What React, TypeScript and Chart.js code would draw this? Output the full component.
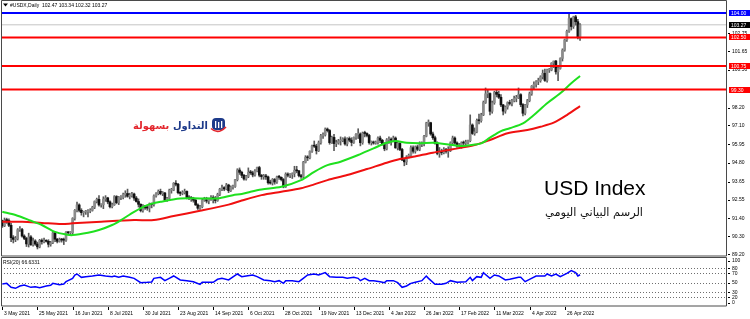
import React, { useEffect, useRef } from "react";
import { Chart, registerables } from "chart.js";

Chart.register(...registerables);

// ---------------- DATA (USDX daily, 3 May 2021 .. 5 May 2022, one bar per weekday) ----------------
const opens = [
  91.28, 90.95, 91.28, 91.27, 90.98, 90.22, 90.12, 90.15, 90.71, 90.72,
  90.32, 90.18, 89.84, 90.27, 89.79, 90.02, 89.83, 89.66, 90.06, 89.98,
  90.03, 90.0, 89.82, 89.91, 90.52, 90.13, 90.0, 90.1, 90.08, 90.07,
  90.56, 90.52, 90.53, 91.4, 91.9, 92.23, 91.9, 91.76, 91.8, 91.82,
  91.85, 91.9, 92.09, 92.44, 92.57, 92.23, 92.24, 92.59, 92.66, 92.42,
  92.12, 92.24, 92.74, 92.37, 92.69, 92.69, 92.87, 92.93, 92.76, 92.8,
  92.9, 92.65, 92.44, 92.27, 91.88, 92.17, 92.05, 92.04, 92.29, 92.25,
  92.78, 92.92, 93.06, 92.92, 92.96, 92.52, 92.63, 93.13, 93.14, 93.56,
  93.5, 92.98, 92.94, 92.99, 93.06, 92.68, 92.65, 92.63, 92.52, 92.23,
  92.03, 92.12, 92.52, 92.54, 92.47, 92.58, 92.66, 92.63, 92.5, 92.87,
  93.2, 93.29, 93.21, 93.45, 93.1, 93.33, 93.36, 93.78, 94.37, 94.23,
  94.04, 93.82, 93.98, 94.22, 94.2, 94.07, 94.31, 94.52, 94.05, 93.96,
  93.97, 93.95, 93.59, 93.57, 93.79, 93.64, 93.95, 93.92, 93.79, 93.34,
  94.12, 94.05, 94.09, 94.15, 94.35, 94.32, 94.03, 93.96, 94.84, 95.14,
  95.12, 95.52, 95.84, 95.83, 95.55, 96.04, 96.48, 96.52, 96.88, 96.79,
  96.05, 96.37, 95.99, 96.03, 96.15, 96.16, 96.28, 95.97, 96.3, 96.2,
  96.06, 96.37, 96.55, 96.58, 96.05, 96.63, 96.61, 96.49, 96.05, 96.09,
  96.02, 96.07, 96.33, 96.19, 95.97, 95.67, 96.22, 96.26, 96.2, 96.33,
  95.73, 96.0, 95.63, 94.99, 94.87, 95.17, 95.27, 95.74, 95.52, 95.79,
  95.64, 95.93, 95.97, 96.44, 97.25, 97.27, 96.58, 96.35, 96.01, 95.39,
  95.48, 95.43, 95.63, 95.51, 95.56, 96.04, 96.33, 96.03, 95.85, 95.86,
  96.04, 96.02, 96.02, 96.17, 97.13, 96.61, 96.71, 97.41, 97.39, 97.75,
  98.51, 99.04, 99.06, 97.97, 98.49, 99.13, 99.01, 98.83, 98.36, 97.98,
  98.23, 98.5, 98.45, 98.62, 98.76, 98.8, 98.99, 98.38, 97.85, 98.36,
  98.62, 99.04, 99.51, 99.62, 99.79, 99.85, 100.08, 100.3, 99.86, 100.5,
  100.5, 100.92, 101.05, 100.39, 100.6, 101.21, 101.72, 102.35, 102.87, 103.65,
  103.17, 103.76, 103.46, 102.47,
];
const highs = [
  91.3, 91.43, 91.42, 91.38, 91.1, 90.35, 90.3, 90.78, 90.9, 90.8,
  90.4, 90.25, 90.5, 90.35, 90.2, 90.1, 89.95, 90.12, 90.15, 90.2,
  90.1, 90.1, 90.0, 90.6, 90.6, 90.18, 90.2, 90.18, 90.2, 90.6,
  90.6, 90.6, 91.45, 91.95, 92.4, 92.3, 92.0, 91.85, 91.9, 91.95,
  92.0, 92.15, 92.48, 92.65, 92.8, 92.3, 92.73, 92.8, 92.7, 92.48,
  92.35, 92.8, 92.8, 92.75, 92.8, 92.95, 93.1, 93.2, 92.95, 93.0,
  92.95, 92.75, 92.6, 92.3, 92.25, 92.2, 92.15, 92.35, 92.35, 92.85,
  92.98, 93.15, 93.2, 93.05, 93.0, 92.7, 93.2, 93.25, 93.6, 93.73,
  93.55, 93.05, 93.1, 93.2, 93.1, 92.8, 92.75, 92.7, 92.6, 92.3,
  92.2, 92.6, 92.7, 92.7, 92.65, 92.8, 92.8, 92.75, 92.95, 93.25,
  93.45, 93.35, 93.55, 93.5, 93.4, 93.45, 93.8, 94.45, 94.5, 94.3,
  94.1, 94.05, 94.5, 94.35, 94.3, 94.4, 94.55, 94.6, 94.1, 94.1,
  94.1, 94.0, 93.75, 93.85, 93.85, 94.0, 94.05, 93.95, 93.85, 94.2,
  94.2, 94.15, 94.2, 94.6, 94.6, 94.35, 94.1, 94.9, 95.25, 95.25,
  95.55, 95.9, 96.15, 95.95, 96.15, 96.55, 96.65, 96.95, 96.95, 96.85,
  96.45, 96.55, 96.2, 96.25, 96.4, 96.35, 96.4, 96.35, 96.4, 96.35,
  96.4, 96.6, 96.9, 96.65, 96.7, 96.75, 96.65, 96.55, 96.15, 96.15,
  96.15, 96.4, 96.45, 96.25, 96.05, 96.3, 96.4, 96.35, 96.45, 96.4,
  96.1, 96.05, 95.7, 95.05, 95.25, 95.35, 95.85, 95.85, 95.85, 95.9,
  96.1, 96.1, 96.5, 97.3, 97.44, 97.3, 96.7, 96.45, 96.1, 95.75,
  95.65, 95.75, 95.7, 95.8, 96.1, 96.45, 96.4, 96.1, 96.0, 96.1,
  96.15, 96.2, 96.2, 97.75, 97.2, 96.95, 97.5, 97.8, 97.85, 98.6,
  99.4, 99.3, 99.1, 98.6, 99.2, 99.3, 99.2, 99.0, 98.4, 98.3,
  98.55, 98.65, 98.7, 98.9, 98.95, 99.4, 99.05, 98.45, 98.4, 98.7,
  99.15, 99.55, 99.78, 99.85, 100.0, 100.15, 100.5, 100.55, 100.55, 100.6,
  100.95, 101.05, 101.1, 100.7, 101.25, 101.8, 102.4, 102.95, 103.93, 103.7,
  103.8, 103.85, 103.6, 103.34,
];
const lows = [
  90.85, 90.9, 91.1, 90.9, 89.98, 89.9, 89.98, 90.08, 90.6, 90.25,
  90.1, 89.68, 89.65, 89.75, 89.7, 89.75, 89.53, 89.6, 89.82, 89.9,
  89.95, 89.65, 89.7, 89.85, 89.98, 89.9, 89.95, 89.95, 89.8, 90.0,
  90.4, 90.4, 90.4, 91.3, 91.8, 91.8, 91.6, 91.5, 91.65, 91.5,
  91.75, 91.85, 92.0, 92.35, 92.15, 92.1, 92.0, 92.45, 92.3, 92.05,
  92.05, 92.2, 92.3, 92.25, 92.55, 92.6, 92.7, 92.7, 92.6, 92.7,
  92.5, 92.4, 92.1, 91.8, 91.78, 91.95, 91.9, 91.8, 92.05, 92.15,
  92.7, 92.85, 92.85, 92.8, 92.45, 92.45, 92.6, 92.95, 93.1, 93.4,
  92.9, 92.8, 92.85, 92.9, 92.6, 92.55, 92.45, 92.4, 92.2, 91.95,
  91.95, 92.05, 92.45, 92.35, 92.3, 92.5, 92.35, 92.35, 92.45, 92.8,
  93.1, 93.1, 93.15, 92.98, 93.05, 93.2, 93.3, 93.7, 94.1, 93.9,
  93.75, 93.75, 93.9, 94.1, 93.95, 94.0, 94.25, 93.95, 93.8, 93.8,
  93.8, 93.5, 93.5, 93.45, 93.5, 93.55, 93.8, 93.7, 93.28, 93.3,
  93.95, 93.9, 93.85, 93.95, 94.2, 93.95, 93.85, 93.9, 94.8, 94.95,
  95.05, 95.45, 95.75, 95.35, 95.5, 95.95, 96.3, 96.45, 96.7, 95.95,
  96.0, 95.55, 95.8, 95.95, 95.9, 96.1, 95.9, 95.85, 96.1, 95.85,
  96.0, 96.25, 96.3, 95.85, 95.95, 96.4, 96.4, 95.95, 95.9, 95.95,
  95.95, 95.95, 96.05, 95.9, 95.55, 95.6, 96.0, 95.9, 96.1, 95.7,
  95.6, 95.55, 94.95, 94.63, 94.7, 95.1, 95.2, 95.4, 95.4, 95.55,
  95.55, 95.8, 95.85, 96.4, 97.05, 96.5, 96.25, 95.95, 95.3, 95.15,
  95.3, 95.35, 95.4, 95.15, 95.5, 95.95, 95.95, 95.75, 95.7, 95.7,
  95.9, 95.85, 95.95, 96.1, 96.55, 96.5, 96.65, 97.2, 97.3, 97.7,
  98.45, 98.8, 97.75, 97.85, 98.4, 98.85, 98.75, 98.25, 97.75, 97.85,
  98.1, 98.35, 98.3, 98.55, 98.55, 98.75, 98.25, 97.68, 97.75, 98.2,
  98.55, 98.95, 99.35, 99.45, 99.6, 99.75, 99.95, 99.8, 99.75, 100.35,
  100.45, 100.65, 100.25, 99.85, 100.55, 101.05, 101.65, 102.25, 102.8, 102.95,
  103.05, 103.25, 102.4, 102.32,
];
const closes = [
  90.95, 91.28, 91.27, 90.98, 90.22, 90.12, 90.15, 90.71, 90.72, 90.32,
  90.18, 89.84, 90.27, 89.79, 90.02, 89.83, 89.66, 90.06, 89.98, 90.03,
  90.0, 89.82, 89.91, 90.52, 90.13, 90.0, 90.1, 90.08, 90.07, 90.56,
  90.52, 90.53, 91.4, 91.9, 92.23, 91.9, 91.76, 91.8, 91.82, 91.85,
  91.9, 92.09, 92.44, 92.57, 92.23, 92.24, 92.59, 92.66, 92.42, 92.12,
  92.24, 92.74, 92.37, 92.69, 92.69, 92.87, 92.93, 92.76, 92.8, 92.9,
  92.65, 92.44, 92.27, 91.88, 92.17, 92.05, 92.04, 92.29, 92.25, 92.78,
  92.92, 93.06, 92.92, 92.96, 92.52, 92.63, 93.13, 93.14, 93.56, 93.5,
  92.98, 92.94, 92.99, 93.06, 92.68, 92.65, 92.63, 92.52, 92.23, 92.03,
  92.12, 92.52, 92.54, 92.47, 92.58, 92.66, 92.63, 92.5, 92.87, 93.2,
  93.29, 93.21, 93.45, 93.1, 93.33, 93.36, 93.78, 94.37, 94.23, 94.04,
  93.82, 93.98, 94.22, 94.2, 94.07, 94.31, 94.52, 94.05, 93.96, 93.97,
  93.95, 93.59, 93.57, 93.79, 93.64, 93.95, 93.92, 93.79, 93.34, 94.12,
  94.05, 94.09, 94.15, 94.35, 94.32, 94.03, 93.96, 94.84, 95.14, 95.12,
  95.52, 95.84, 95.83, 95.55, 96.04, 96.48, 96.52, 96.88, 96.79, 96.05,
  96.37, 95.99, 96.03, 96.15, 96.16, 96.28, 95.97, 96.3, 96.2, 96.06,
  96.37, 96.55, 96.58, 96.05, 96.63, 96.61, 96.49, 96.05, 96.09, 96.02,
  96.07, 96.33, 96.19, 95.97, 95.67, 96.22, 96.26, 96.2, 96.33, 95.73,
  96.0, 95.63, 94.99, 94.87, 95.17, 95.27, 95.74, 95.52, 95.79, 95.64,
  95.93, 95.97, 96.44, 97.25, 97.27, 96.58, 96.35, 96.01, 95.39, 95.48,
  95.43, 95.63, 95.51, 95.56, 96.04, 96.33, 96.03, 95.85, 95.86, 96.04,
  96.02, 96.02, 96.17, 97.13, 96.61, 96.71, 97.41, 97.39, 97.75, 98.51,
  99.04, 99.06, 97.97, 98.49, 99.13, 99.01, 98.83, 98.36, 97.98, 98.23,
  98.5, 98.45, 98.62, 98.76, 98.8, 98.99, 98.38, 97.85, 98.36, 98.62,
  99.04, 99.51, 99.62, 99.79, 99.85, 100.08, 100.3, 99.86, 100.5, 100.5,
  100.92, 101.05, 100.39, 100.6, 101.21, 101.72, 102.35, 102.87, 103.65, 103.17,
  103.76, 103.46, 102.48, 103.27,
];

// moving averages (bar index -> value)
const maFastBars = [0, 6, 13, 18, 24, 29, 32, 39, 44, 50, 54, 60, 66, 72, 81, 90, 98, 105, 109, 113, 118, 127, 136, 142, 148, 154, 162, 169, 175, 179, 184, 190, 196, 203, 209, 215, 218, 222, 227, 231, 237, 242, 248, 254, 259, 263];
const maFastValues = [91.81, 91.61, 91.26, 91.0, 90.58, 90.42, 90.38, 90.52, 90.69, 91.0, 91.3, 91.81, 92.22, 92.42, 92.63, 92.63, 92.63, 92.83, 92.9, 93.04, 93.18, 93.34, 93.75, 94.26, 94.67, 94.88, 95.29, 95.7, 96.04, 96.15, 96.04, 96.01, 96.04, 95.94, 95.84, 95.93, 96.0, 96.35, 96.76, 96.93, 97.23, 97.74, 98.46, 99.07, 99.69, 100.13];
const maSlowBars = [0, 9, 18, 27, 32, 45, 60, 69, 78, 90, 103, 109, 118, 127, 136, 142, 148, 157, 166, 175, 181, 187, 196, 205, 215, 222, 230, 239, 245, 251, 257, 263];
const maSlowValues = [91.2, 91.2, 91.13, 91.06, 91.1, 91.2, 91.3, 91.3, 91.55, 91.87, 92.25, 92.5, 92.83, 93.04, 93.25, 93.49, 93.75, 94.06, 94.43, 94.82, 95.04, 95.18, 95.43, 95.64, 95.9, 96.21, 96.62, 96.82, 97.02, 97.27, 97.74, 98.29];

// RSI(20)
const rsiBars = [0, 2, 4, 6, 8, 10, 13, 15, 17, 20, 22, 23, 26, 28, 29, 32, 33, 34, 36, 38, 41, 44, 47, 50, 51, 53, 55, 58, 60, 63, 66, 68, 69, 72, 74, 76, 78, 81, 84, 87, 90, 91, 96, 98, 100, 103, 107, 109, 111, 114, 116, 119, 122, 124, 126, 128, 129, 132, 135, 137, 139, 142, 144, 147, 149, 152, 155, 157, 160, 162, 163, 165, 167, 169, 172, 174, 175, 178, 180, 182, 184, 186, 188, 191, 193, 194, 197, 200, 202, 204, 207, 211, 213, 214, 216, 218, 219, 222, 224, 226, 229, 231, 235, 236, 238, 240, 243, 247, 248, 250, 252, 254, 257, 259, 261, 262, 263];
const rsiValues = [47.5, 48.9, 40.6, 38.6, 43.4, 45.5, 40.6, 42.0, 39.9, 43.4, 44.8, 48.9, 46.2, 47.5, 52.3, 59.2, 66.1, 68.2, 61.3, 62.7, 64.1, 66.2, 64.1, 62.7, 64.1, 61.3, 64.1, 61.3, 59.2, 50.3, 51.0, 51.7, 59.2, 61.3, 54.4, 59.2, 64.1, 55.8, 54.4, 52.3, 46.8, 51.0, 51.0, 57.2, 59.2, 55.8, 68.2, 62.7, 64.1, 66.2, 62.7, 55.8, 54.4, 52.3, 54.4, 48.9, 54.4, 54.4, 52.3, 59.2, 66.2, 68.2, 66.2, 71.0, 62.7, 61.3, 61.3, 59.2, 61.3, 59.2, 54.4, 59.2, 54.4, 54.4, 52.3, 50.3, 54.4, 54.4, 50.3, 40.6, 43.4, 48.9, 51.0, 54.4, 64.1, 59.2, 46.8, 46.8, 48.9, 54.4, 51.0, 52.3, 61.3, 54.4, 62.7, 61.3, 71.0, 59.2, 66.2, 64.1, 55.8, 57.2, 61.3, 61.3, 52.3, 57.2, 64.1, 64.1, 68.2, 64.1, 68.2, 62.7, 69.6, 75.1, 71.0, 64.1, 66.6];

const dateLabels = ["3 May 2021", "25 May 2021", "16 Jun 2021", "8 Jul 2021", "30 Jul 2021", "23 Aug 2021", "14 Sep 2021", "6 Oct 2021", "28 Oct 2021", "19 Nov 2021", "13 Dec 2021", "4 Jan 2022", "26 Jan 2022", "17 Feb 2022", "11 Mar 2022", "4 Apr 2022", "26 Apr 2022"];
const dateLabelBars = [0, 16, 32, 48, 64, 80, 96, 112, 128, 144, 160, 176, 192, 208, 224, 240, 256];

const levelValues = [104.0, 102.5, 100.75, 99.3];
const levelColors = ["#0000ff", "#ff0000", "#ff0000", "#ff0000"];
const bidPrice = 103.27;
const priceTicks = [102.75, 101.65, 100.5, 98.2, 97.1, 95.95, 94.8, 93.65, 92.55, 91.4, 90.3, 89.2];
const rsiGuides = [80, 70, 50, 30, 20];
const rsiTicks = [100, 80, 70, 50, 30, 20, 0];

const headerText = "#USDX,Daily  102.47 103.34 102.32 103.27";
const rsiTitle = "RSI(20) 66.6331";
const titleText = "USD Index";
const subtitleText = "الرسم البياني اليومي";
const logoWordBlue = "التداول";
const logoWordRed = "بسهولة";

// ---------------- layout constants ----------------
const X_MIN = -0.6;
const X_MAX = 329.9;
const PRICE_MIN = 89.1;
const PRICE_MAX = 104.73;
const RSI_MIN = 2.0;
const RSI_MAX = 101.3;
const SMALL_FONT = '5px "Liberation Sans", Arial, sans-serif';
const FRAME = "#4a4a4a";

function drawFrame(ctx: any, ca: any) {
  ctx.strokeStyle = FRAME;
  ctx.lineWidth = 1;
  ctx.beginPath();
  ctx.rect(ca.left + 0.5, ca.top - 0.5, ca.right - ca.left - 1, ca.bottom - ca.top + 0.5);
  ctx.stroke();
}

const pricePlugin = {
  id: "priceDecor",
  afterDraw(chart: any) {
    const ctx = chart.ctx;
    const ca = chart.chartArea;
    const ys = chart.scales.y;
    ctx.save();
    drawFrame(ctx, ca);

    // right price axis
    ctx.font = SMALL_FONT;
    ctx.textBaseline = "middle";
    ctx.textAlign = "left";
    ctx.fillStyle = "#000";
    priceTicks.forEach((v) => {
      const py = ys.getPixelForValue(v);
      ctx.fillRect(ca.right + 1, Math.round(py), 2, 1);
      ctx.fillText(v.toFixed(2), ca.right + 5, py);
    });
    const box = (v: number, bg: string) => {
      const py = ys.getPixelForValue(v);
      ctx.fillStyle = bg;
      ctx.fillRect(ca.right + 2, Math.round(py) - 3, 21, 6);
      ctx.fillStyle = "#fff";
      ctx.fillText(v.toFixed(2), ca.right + 4, Math.round(py) + 0.2);
    };
    box(bidPrice, "#000");
    levelValues.forEach((v, k) => box(v, levelColors[k]));

    // header
    ctx.fillStyle = "#000";
    ctx.beginPath();
    ctx.moveTo(3, 3.5);
    ctx.lineTo(8, 3.5);
    ctx.lineTo(5.5, 6.5);
    ctx.closePath();
    ctx.fill();
    ctx.font = SMALL_FONT;
    ctx.fillText(headerText, 10, 5.5);

    // title
    ctx.font = '21px "Liberation Sans", Arial, sans-serif';
    ctx.textBaseline = "alphabetic";
    ctx.fillText(titleText, 544, 195);

    // arabic subtitle
    ctx.font = '13px "DejaVu Sans", sans-serif';
    let w = ctx.measureText(subtitleText).width;
    const subSize = (13 * 98) / w;
    ctx.font = `${subSize}px "DejaVu Sans", sans-serif`;
    ctx.textAlign = "right";
    ctx.textBaseline = "middle";
    ctx.fillStyle = "#111";
    ctx.fillText(subtitleText, 643, 213.5);

    // logo
    const both = logoWordBlue + " " + logoWordRed;
    ctx.font = 'bold 11px "DejaVu Sans", sans-serif';
    w = ctx.measureText(both).width;
    const logoSize = (11 * 75) / w;
    ctx.font = `bold ${logoSize}px "DejaVu Sans", sans-serif`;
    ctx.fillStyle = "#1d3a8a";
    ctx.textAlign = "right";
    ctx.fillText(logoWordBlue, 208, 126);
    ctx.fillStyle = "#e3262d";
    ctx.textAlign = "left";
    ctx.fillText(logoWordRed, 133, 126);
    // logo icon
    ctx.fillStyle = "#1d3a8a";
    ctx.beginPath();
    if (ctx.roundRect) ctx.roundRect(212, 118, 13, 12, 4);
    else ctx.rect(212, 118, 13, 12);
    ctx.fill();
    ctx.fillStyle = "#fff";
    ctx.fillRect(215, 121, 1.3, 7);
    ctx.fillRect(218, 122, 1.3, 6);
    ctx.fillRect(221, 121, 1.3, 7);
    ctx.strokeStyle = "#e3262d";
    ctx.lineWidth = 1.6;
    ctx.beginPath();
    ctx.moveTo(211, 128.5);
    ctx.quadraticCurveTo(218, 135, 226, 127);
    ctx.stroke();
    ctx.restore();
  },
};

const rsiPlugin = {
  id: "rsiDecor",
  beforeDatasetsDraw(chart: any) {
    const ctx = chart.ctx;
    const ca = chart.chartArea;
    const ys = chart.scales.y;
    ctx.save();
    ctx.strokeStyle = "#6e6e6e";
    ctx.lineWidth = 1;
    ctx.setLineDash([1, 2]);
    rsiGuides.forEach((v) => {
      const py = Math.round(ys.getPixelForValue(v)) + 0.5;
      ctx.beginPath();
      ctx.moveTo(ca.left, py);
      ctx.lineTo(ca.right, py);
      ctx.stroke();
    });
    ctx.restore();
  },
  afterDraw(chart: any) {
    const ctx = chart.ctx;
    const ca = chart.chartArea;
    const ys = chart.scales.y;
    const xs = chart.scales.x;
    ctx.save();
    drawFrame(ctx, ca);
    ctx.font = SMALL_FONT;
    ctx.fillStyle = "#000";
    ctx.textBaseline = "middle";
    ctx.textAlign = "left";
    ctx.fillText(rsiTitle, 3, ca.top + 4.8);
    rsiTicks.forEach((v) => {
      let py = ys.getPixelForValue(v);
      py = Math.max(ca.top + 3, Math.min(ca.bottom - 3, py));
      ctx.fillRect(ca.right + 1, Math.round(py), 2, 1);
      ctx.fillText(String(v), ca.right + 5, py);
    });
    dateLabelBars.forEach((b, i) => {
      const px = Math.round(xs.getPixelForValue(b));
      ctx.fillRect(px, ca.bottom + 1, 1, 3);
      ctx.fillText(dateLabels[i], px + 2, ca.bottom + 7.5);
    });
    ctx.restore();
  },
};

export default function App() {
  const priceRef = useRef<HTMLCanvasElement>(null);
  const rsiRef = useRef<HTMLCanvasElement>(null);

  useEffect(() => {
    document.body.style.margin = "0";
    const wickData = closes.map((c, i) => ({ x: i, y: [lows[i], highs[i]] }));
    const bodyData = closes.map((c, i) => ({ x: i, y: [opens[i], c] }));
    const bodyColors = closes.map((c, i) => (c >= opens[i] ? "#8c8c8c" : "#111111"));

    const levelSets = levelValues.map((v, k) => ({
      type: "line",
      data: [
        { x: X_MIN, y: v },
        { x: X_MAX, y: v },
      ],
      borderColor: levelColors[k],
      borderWidth: 2,
      pointRadius: 0,
    }));

    const priceChart = new Chart(priceRef.current as HTMLCanvasElement, {
      type: "bar",
      data: {
        datasets: [
          ...levelSets,
          {
            type: "line",
            data: maFastBars.map((b, i) => ({ x: b, y: maFastValues[i] })),
            borderColor: "#1fe01f",
            borderWidth: 2,
            pointRadius: 0,
            tension: 0.3,
          },
          {
            type: "line",
            data: maSlowBars.map((b, i) => ({ x: b, y: maSlowValues[i] })),
            borderColor: "#f01010",
            borderWidth: 2,
            pointRadius: 0,
            tension: 0.3,
          },
          {
            type: "bar",
            data: bodyData,
            backgroundColor: bodyColors,
            barThickness: 2,
            minBarLength: 1,
            grouped: false,
          },
          {
            type: "bar",
            data: wickData,
            backgroundColor: "#5a5a5a",
            barThickness: 1,
            grouped: false,
          },
          {
            type: "line",
            data: [
              { x: X_MIN, y: bidPrice },
              { x: X_MAX, y: bidPrice },
            ],
            borderColor: "#c4c4c4",
            borderWidth: 1,
            pointRadius: 0,
          },
        ] as any,
      },
      options: {
        animation: false,
        responsive: false,
        devicePixelRatio: 1,
        events: [],
        layout: { padding: { left: 1, right: 23, top: 1, bottom: 1 } },
        plugins: { legend: { display: false }, tooltip: { enabled: false } },
        scales: {
          x: { type: "linear", min: X_MIN, max: X_MAX, display: false, offset: false },
          y: { type: "linear", min: PRICE_MIN, max: PRICE_MAX, display: false },
        },
      } as any,
      plugins: [pricePlugin],
    });

    const rsiChart = new Chart(rsiRef.current as HTMLCanvasElement, {
      type: "line",
      data: {
        datasets: [
          {
            data: rsiBars.map((b, i) => ({ x: b, y: rsiValues[i] })),
            borderColor: "#0000ff",
            borderWidth: 1.5,
            pointRadius: 0,
          },
        ],
      },
      options: {
        animation: false,
        responsive: false,
        devicePixelRatio: 1,
        events: [],
        layout: { padding: { left: 1, right: 23, top: 1, bottom: 13 } },
        plugins: { legend: { display: false }, tooltip: { enabled: false } },
        scales: {
          x: { type: "linear", min: X_MIN, max: X_MAX, display: false },
          y: { type: "linear", min: RSI_MIN, max: RSI_MAX, display: false },
        },
      } as any,
      plugins: [rsiPlugin],
    });

    return () => {
      priceChart.destroy();
      rsiChart.destroy();
    };
  }, []);

  return (
    <div style={{ position: "absolute", left: 0, top: 0, width: 750, height: 319, background: "#fff", overflow: "hidden" }}>
      <canvas
        ref={priceRef}
        width={750}
        height={257}
        style={{ position: "absolute", left: 0, top: 0, width: 750, height: 257 }}
      />
      <canvas
        ref={rsiRef}
        width={750}
        height={62}
        style={{ position: "absolute", left: 0, top: 257, width: 750, height: 62 }}
      />
    </div>
  );
}
